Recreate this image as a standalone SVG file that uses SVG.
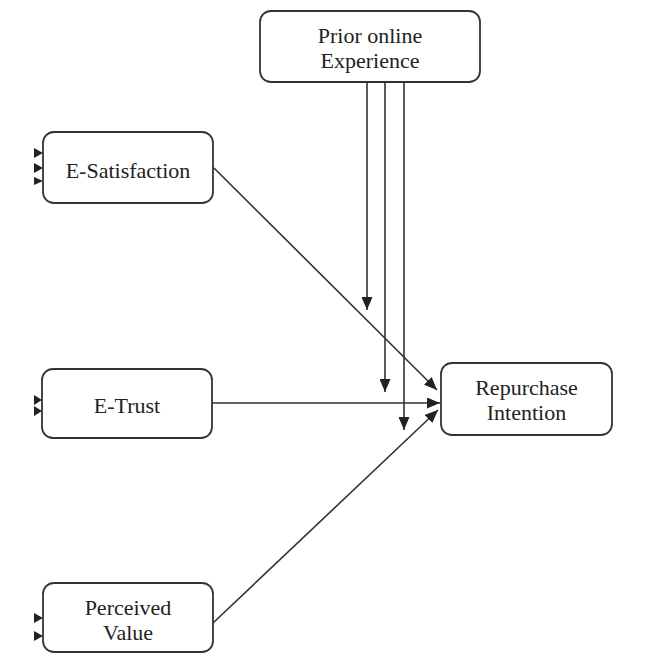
<svg xmlns="http://www.w3.org/2000/svg" width="645" height="654" viewBox="0 0 645 654">
<style>
.box{fill:#fff;stroke:#333;stroke-width:1.8}
.t{font-family:"Liberation Serif","Times New Roman",serif;font-size:22px;fill:#222;text-anchor:middle}
.c{stroke:#333;stroke-width:1.6;fill:none}
.h{fill:#222}
</style>
<defs>
<marker id="a" viewBox="0 0 13 11" refX="13" refY="5.5" markerWidth="13" markerHeight="11" markerUnits="userSpaceOnUse" orient="auto">
<path d="M0,0 L13,5.5 L0,11 Z" fill="#222"/>
</marker>
</defs>
<rect width="645" height="654" fill="#fff"/>
<g id="connectors">
<line class="c" x1="367" y1="82" x2="367" y2="310" marker-end="url(#a)"/>
<line class="c" x1="385" y1="82" x2="385" y2="392" marker-end="url(#a)"/>
<line class="c" x1="404" y1="82" x2="404" y2="430" marker-end="url(#a)"/>
<line class="c" x1="214" y1="168" x2="437" y2="390" marker-end="url(#a)"/>
<line class="c" x1="212" y1="403" x2="440" y2="403" marker-end="url(#a)"/>
<line class="c" x1="213" y1="623" x2="438" y2="410" marker-end="url(#a)"/>
<path class="h" d="M34,148 L43,153 L34,158 Z"/>
<path class="h" d="M34,163 L43,168 L34,173 Z"/>
<path class="h" d="M34,177 L43,181 L34,185 Z"/>
<path class="h" d="M34,395 L42,400 L34,405 Z"/>
<path class="h" d="M34,406 L42,411 L34,416 Z"/>
<path class="h" d="M34,613 L43,618 L34,623 Z"/>
<path class="h" d="M34,631 L43,636 L34,641 Z"/>
</g>
<g id="prior">
<rect class="box" x="260" y="11" width="220" height="71" rx="11"/>
<text class="t" x="370" y="43">Prior online</text>
<text class="t" x="370" y="68">Experience</text>
</g>
<g id="esat">
<rect class="box" x="43" y="132" width="170" height="71" rx="11"/>
<text class="t" x="128" y="178">E-Satisfaction</text>
</g>
<g id="etrust">
<rect class="box" x="42" y="369" width="170" height="69" rx="11"/>
<text class="t" x="127" y="413">E-Trust</text>
</g>
<g id="pv">
<rect class="box" x="43" y="583" width="170" height="69" rx="11"/>
<text class="t" x="128" y="615">Perceived</text>
<text class="t" x="128" y="640">Value</text>
</g>
<g id="ri">
<rect class="box" x="441" y="363" width="171" height="72" rx="11"/>
<text class="t" x="526.5" y="395">Repurchase</text>
<text class="t" x="526.5" y="420">Intention</text>
</g>
</svg>
